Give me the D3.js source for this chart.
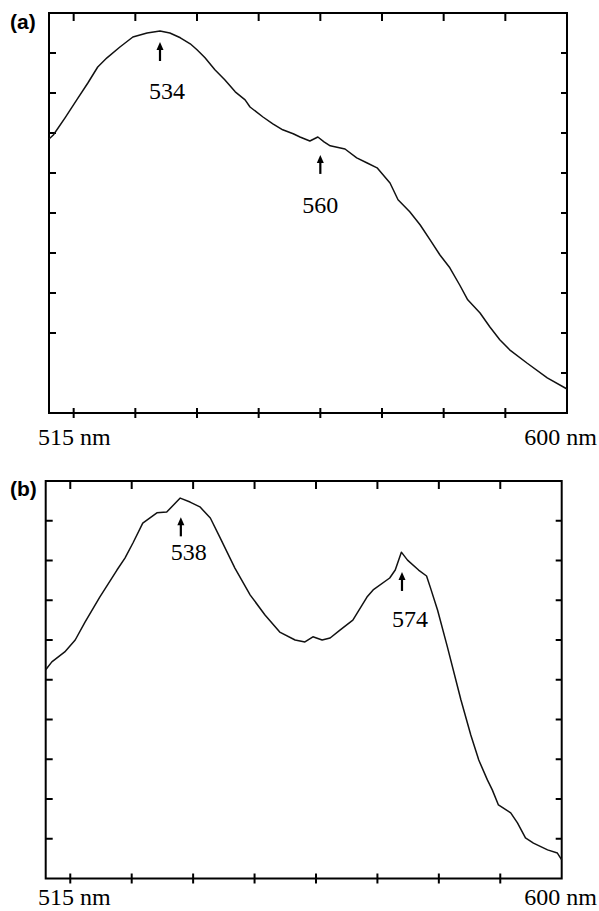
<!DOCTYPE html>
<html>
<head>
<meta charset="utf-8">
<script src="https://cdn.jsdelivr.net/npm/d3@7"></script>
<style>
  html, body { margin: 0; padding: 0; background: #fff; }
  svg { display: block; }
  .frame { fill: none; stroke: #000; stroke-width: 2; }
  .tick { stroke: #000; stroke-width: 2; }
  .spectrum { fill: none; stroke: #111; stroke-width: 1.5; stroke-linejoin: round; }
</style>
</head>
<body>
<svg id="chart" width="599" height="911"></svg>
<script>
// Two emission spectra, 516-600 nm, arbitrary intensity (0-10)

const waveA = [516, 516.7, 518.6, 520.5, 522.3, 523.9, 525.4, 527.5, 529.6, 531.9,
  534.0, 535.6, 537.3, 538.9, 540.0, 541.3, 542.9, 544.5, 546.2, 547.8,
  548.6, 550.7, 552.3, 553.9, 555.6, 556.7, 558.3, 559.6, 560.6, 561.6,
  564.0, 565.9, 567.6, 569.2, 571.3, 572.6, 574.5, 576.2, 577.8, 579.4,
  581.0, 582.6, 583.9, 585.9, 587.5, 589.1, 590.7, 593.5, 596.8, 600];
const intensityA = [6.85, 6.95, 7.38, 7.83, 8.25, 8.65, 8.88, 9.15, 9.40, 9.50,
  9.55, 9.50, 9.38, 9.23, 9.08, 8.88, 8.58, 8.33, 8.03, 7.83,
  7.65, 7.40, 7.23, 7.08, 6.98, 6.90, 6.80, 6.90, 6.78, 6.68,
  6.60, 6.38, 6.25, 6.13, 5.75, 5.33, 5.03, 4.70, 4.33, 3.95,
  3.63, 3.20, 2.83, 2.50, 2.15, 1.83, 1.58, 1.25, 0.88, 0.60];

const waveB = [516.0, 517.0, 519.1, 520.8, 522.4, 524.8, 527.6, 528.9, 530.2, 531.8,
  534.1, 535.7, 537.9, 539.5, 541.1, 542.8, 544.4, 546.8, 549.3, 551.7,
  554.1, 556.6, 558.2, 559.5, 561.0, 562.3, 563.9, 566.0, 568.3, 569.3,
  572.0, 572.9, 573.9, 574.9, 576.7, 578.0, 578.6, 579.8, 581.4, 583.6,
  585.2, 586.5, 587.9, 588.7, 589.7, 591.7, 592.8, 594.1, 595.4, 597.7,
  599.3, 600];
const intensityB = [5.25, 5.45, 5.70, 6.00, 6.45, 7.08, 7.76, 8.06, 8.44, 8.94,
  9.20, 9.22, 9.57, 9.47, 9.35, 9.07, 8.57, 7.81, 7.13, 6.63,
  6.20, 6.00, 5.95, 6.08, 6.00, 6.05, 6.25, 6.50, 7.08, 7.26,
  7.56, 7.76, 8.21, 8.01, 7.76, 7.61, 7.33, 6.75, 5.82, 4.49,
  3.61, 2.98, 2.48, 2.23, 1.85, 1.65, 1.40, 1.02, 0.89, 0.72,
  0.64, 0.47];

const peaksA = [534, 560];
const peaksB = [538, 574];

const xTicks = [520, 530, 540, 550, 560, 570, 580, 590];
const yTicks = [1, 2, 3, 4, 5, 6, 7, 8, 9];
const yTicksLeftA = [2, 3, 4, 5, 6, 7, 8, 9];   // lowest left tick is missing in (a)
const axisLabels = ['515 nm', '600 nm'];

const SERIF = '"Liberation Serif", "Times New Roman", Times, "DejaVu Serif", serif';
const SANS = '"Liberation Sans", Arial, Helvetica, sans-serif';

const panels = [
  { tag: '(a)', tagY: 29, left: 49, right: 567, top: 13, bottom: 413, labelY: 445,
    wave: waveA, value: intensityA, peaks: peaksA, leftTicks: yTicksLeftA,
    annot: [{ gap: 11, dx: 7, text: 57 }, { gap: 16, dx: 0, text: 58 }] },
  { tag: '(b)', tagY: 496, left: 45.7, right: 561.7, top: 481, bottom: 878.5, labelY: 905,
    wave: waveB, value: intensityB, peaks: peaksB, leftTicks: yTicks,
    annot: [{ gap: 19, dx: 8, text: 43 }, { gap: 19, dx: 8, text: 55 }] }
];

const svg = d3.select('#chart');

function serifText(g, x, y, str, anchor) {
  return g.append('text')
    .attr('x', x).attr('y', y)
    .attr('text-anchor', anchor)
    .style('font-family', SERIF)
    .style('font-size', '24px')
    .attr('fill', '#000')
    .text(str);
}

panels.forEach(p => {
  const x = d3.scaleLinear().domain([516, 600]).range([p.left, p.right]);
  const y = d3.scaleLinear().domain([0, 10]).range([p.bottom, p.top]);
  const g = svg.append('g');

  // ticks: bottom crosses the axis, the other three point inward
  xTicks.forEach(t => {
    g.append('line').attr('class', 'tick')
      .attr('x1', x(t)).attr('x2', x(t)).attr('y1', p.bottom - 5).attr('y2', p.bottom + 5);
    g.append('line').attr('class', 'tick')
      .attr('x1', x(t)).attr('x2', x(t)).attr('y1', p.top).attr('y2', p.top + 8);
  });
  p.leftTicks.forEach(t => {
    g.append('line').attr('class', 'tick')
      .attr('x1', p.left).attr('x2', p.left + 7).attr('y1', y(t)).attr('y2', y(t));
  });
  yTicks.forEach(t => {
    g.append('line').attr('class', 'tick')
      .attr('x1', p.right - 6).attr('x2', p.right).attr('y1', y(t)).attr('y2', y(t));
  });

  g.append('rect').attr('class', 'frame')
    .attr('x', p.left).attr('y', p.top)
    .attr('width', p.right - p.left).attr('height', p.bottom - p.top);

  const pts = p.wave.map((w, i) => [w, p.value[i]]);
  const line = d3.line().x(d => x(d[0])).y(d => y(d[1])).curve(d3.curveLinear);
  g.append('path').attr('class', 'spectrum').attr('d', line(pts));

  // peak arrows
  const valueAt = w => {
    const i = d3.bisector(d => d[0]).left(pts, w);
    if (i <= 0) return pts[0][1];
    const a = pts[i - 1], b = pts[i];
    return a[1] + (b[1] - a[1]) * (w - a[0]) / (b[0] - a[0]);
  };
  p.peaks.forEach((pk, i) => {
    const cfg = p.annot[i];
    const ax = x(pk);
    const tip = y(valueAt(pk)) + cfg.gap;
    g.append('line').attr('stroke', '#000').attr('stroke-width', 2.2)
      .attr('x1', ax).attr('x2', ax).attr('y1', tip + 5).attr('y2', tip + 19);
    g.append('path').attr('fill', '#000')
      .attr('d', `M${ax},${tip} L${ax - 3.5},${tip + 8} L${ax + 3.5},${tip + 8} Z`);
    serifText(g, ax + cfg.dx, tip + cfg.text, pk, 'middle');
  });

  serifText(g, 38, p.labelY, axisLabels[0], 'start');
  serifText(g, 597, p.labelY, axisLabels[1], 'end');

  g.append('text')
    .attr('x', 10).attr('y', p.tagY)
    .style('font-family', SANS)
    .style('font-weight', 'bold')
    .style('font-size', '21px')
    .text(p.tag);
});
</script>
</body>
</html>
